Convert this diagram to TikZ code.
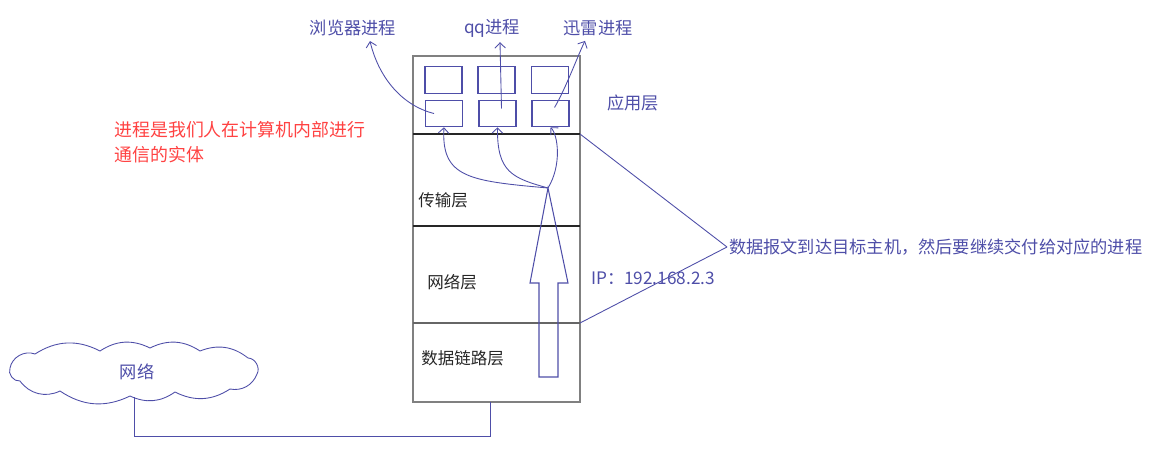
\documentclass[tikz,border=0pt]{standalone}
\usepackage{fontspec}
\setmainfont{Noto Sans CJK SC}
\usetikzlibrary{arrows.meta,positioning,calc}
\definecolor{ink}{RGB}{78,78,168}
\definecolor{redtext}{RGB}{255,66,66}

\begin{document}
\begin{tikzpicture}[x=0.02cm, y=-0.02cm,
  proc/.style={rectangle, draw=ink, line width=0.6pt, minimum width=0.74cm,
               minimum height=0.53cm, inner sep=0pt},
  lbl/.style={font=\fontsize{9.8}{12}\selectfont, text=ink, inner sep=1pt},
  layer/.style={font=\fontsize{9.4}{12}\selectfont, text=black!85, anchor=west, inner sep=0pt},
  arr/.style={-{Straight Barb[length=3pt,width=6pt]}, draw=ink, line width=0.5pt},
  wire/.style={draw=ink, line width=0.5pt}
]
\useasboundingbox (0,0) rectangle (1155,467);

% host with its four layers
\node[draw=black!50, line width=1pt, minimum width=3.34cm, minimum height=6.92cm,
      inner sep=0pt] (host) at (496.5,229) {};
\coordinate (d1) at (580,134);
\coordinate (d3) at (580,323);
\coordinate (link) at (490,402);
\draw[black!85, line width=0.6pt] (413,134) -- (d1);
\draw[black!85, line width=0.6pt] (413,226) -- (580,226);
\draw[black!60, line width=0.6pt] (413,323) -- (d3);

% processes
\node[proc] (p1) at (443.5,80) {};
\node[proc] (p2) at (496.5,80) {};
\node[proc] (p3) at (550,80) {};
\node[proc] (q1) at (444,113.5) {};
\node[proc] (q2) at (497.5,113.5) {};
\node[proc] (q3) at (550.5,113.5) {};

\node[lbl] (browser) at (353,28) {浏览器进程};
\node[lbl] (qq) at (492,28) {qq进程};
\node[lbl] (xunlei) at (598,28) {迅雷进程};
\node[lbl] (app) at (633,103) {应用层};

\draw[arr] ($(q1.center)+(-10,0)$) .. controls (400,105) and (378,75) .. ($(browser.south)+(17,3)$);
\draw[arr] ($(q2.center)+(4,-5)$) -- ($(qq.south)+(8,3)$);
\draw[arr] ($(q3.center)+(4,-6)$) .. controls (566,88) and (578,55) .. ($(xunlei.south)+(-13,3)$);

% layer names
\node[layer] (trans) at (418,200) {传输层};
\node[layer] (netl) at (427,282) {网络层};
\node[layer] (dlink) at (421,358) {数据链路层};

% data going up
\coordinate (split) at (548,188);
\draw[ink, line width=0.6pt] (539,377) -- (539,283) -- (530,283) -- (split)
  -- (568,283) -- (558,283) -- (558,377) -- cycle;
\draw[arr] (split) .. controls (470,181) and (441,178) .. (q1.south);
\draw[arr] (split) .. controls (512,178) and (497,172) .. (q2.south);
\draw[arr] (split) .. controls (562,165) and (558,135) .. (q3.south);

\node[lbl, anchor=west] (ip) at (589,278) {IP：192.168.2.3};

% annotation
\node[lbl, anchor=west] (arrive) at (727,247) {数据报文到达目标主机，然后要继续交付给对应的进程};
\draw[wire] (d1) -- (arrive.west);
\draw[wire] (d3) -- (arrive.west);

\node[font=\fontsize{10.2}{14.2}\selectfont, text=redtext, anchor=north west, align=left,
      inner sep=0pt] (def) at (114,121) {进程是我们人在计算机内部进行\\通信的实体};

% network cloud
\draw[wire] (10,368) to[bend left=50] (35,354) to[bend left=30] (100,351)
  to[bend left=30] (150,348) to[bend left=30] (200,351) to[bend left=30] (248,358)
  to[bend left=60] (257,374) to[bend left=40] (230,389) to[bend left=30] (175,392)
  to[bend left=30] (130,396) to[bend left=30] (60,391) to[bend left=40] (20,381)
  to[bend left=60] cycle;
\coordinate (netbot) at (134,397);
\node[lbl] (netname) at (137,372) {网络};
\draw[wire] (netbot) -- (netbot |- 0,436) -| (link);
\end{tikzpicture}
\end{document}
